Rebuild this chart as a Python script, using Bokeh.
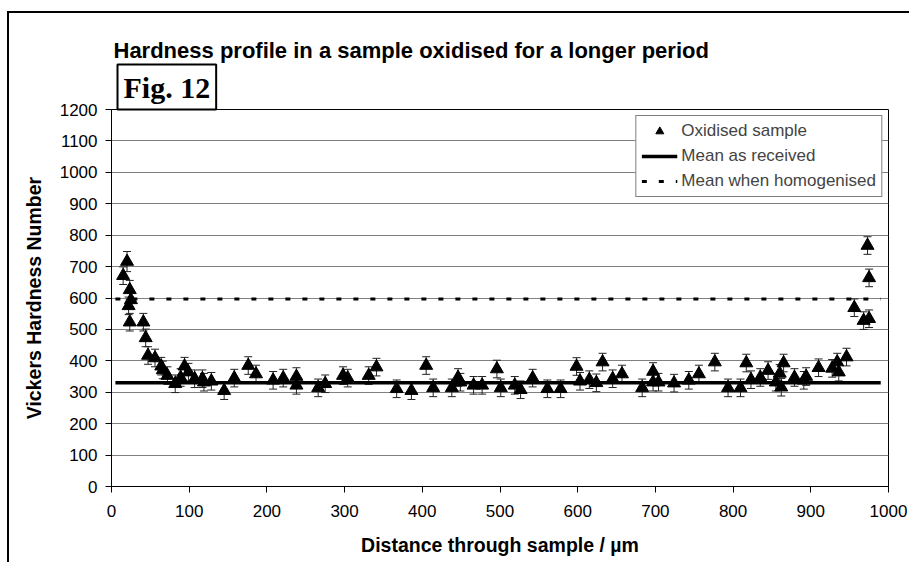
from bokeh.plotting import figure
from bokeh.models import (ColumnDataSource, Whisker, TeeHead, Title, Legend, LegendItem,
                          FixedTicker, Range1d)
from bokeh.embed import file_html
from bokeh.resources import INLINE

# ---- data ----
distance = [15, 20, 23.5, 25, 22, 23.5, 41, 44, 47, 56, 64, 66, 72, 82, 89, 94, 99, 107, 117, 119,
            128.5, 145, 158, 176, 186, 208, 221, 238, 238, 266, 275, 298, 304, 331, 341, 367, 386,
            405, 414, 438, 446, 449, 466, 477, 496, 501, 519, 526.5, 542, 561, 578, 598.5, 603,
            615, 624, 632, 645, 657, 683, 697, 697, 704, 724, 743, 756, 776.5, 793.5, 809.5, 817,
            823, 835, 845, 855, 860, 862, 865, 879, 891, 894, 910, 927.5, 934, 936, 946, 956, 968,
            975, 975, 973]
hardness = [671, 716, 626, 594, 575, 523, 523, 473, 417, 409, 383, 371, 353, 327, 347, 383, 364, 343,
            343, 332, 335, 305, 345, 385, 358, 338, 345, 350, 322, 314, 327, 353, 345, 353, 380, 311,
            305, 385, 314, 314, 347, 332, 322, 322, 374, 314, 322, 308, 345, 311, 311, 382, 335, 340,
            330, 396, 343, 358, 314, 366, 332, 332, 329, 338, 358, 396, 314, 314, 393, 340, 347, 369,
            332, 360, 316, 393, 347, 338, 350, 378, 376, 396, 364, 412, 569, 528, 534, 664, 767]
error = [28, 32, 30, 28, 28, 28, 28, 28, 28, 28, 28, 28, 28, 28, 28, 28, 28, 28, 28, 28,
         28, 28, 28, 28, 28, 28, 28, 28, 28, 28, 28, 28, 28, 28, 28, 28, 28, 28, 28, 28,
         28, 28, 28, 28, 28, 28, 28, 28, 28, 28, 28, 28, 28, 28, 28, 28, 28, 28, 28, 28,
         28, 28, 28, 28, 28, 28, 28, 28, 28, 28, 28, 28, 28, 28, 28, 28, 28, 28, 28, 28,
         28, 28, 28, 28, 28, 28, 28, 28, 28]
mean_x = [5, 990]
mean_as_received = [330, 330]
mean_homogenised = [597, 597]

x_ticks = [0, 100, 200, 300, 400, 500, 600, 700, 800, 900, 1000]
y_ticks = [0, 100, 200, 300, 400, 500, 600, 700, 800, 900, 1000, 1100, 1200]

title_text = "Hardness profile in a sample oxidised for a longer period"
fig_text = "Fig. 12"

upper = [h + e for h, e in zip(hardness, error)]
lower = [h - e for h, e in zip(hardness, error)]
src = ColumnDataSource(dict(x=distance, y=hardness, upper=upper, lower=lower))

FONT = "Liberation Sans"

p = figure(width=909, height=562, output_backend="svg", toolbar_location=None,
           x_range=Range1d(0, 1000), y_range=Range1d(0, 1200),
           min_border_left=111, min_border_right=21, min_border_top=109, min_border_bottom=76)
p.background_fill_color = "white"
p.border_fill_color = None
p.outline_line_color = "black"
p.outline_line_width = 1
# outer chart frame (left and top edges visible in the window)
p.styles = {"background": "linear-gradient(#000,#000) 7px 11px / 2px 1000px no-repeat, "
                          "linear-gradient(#000,#000) 7px 11px / 1000px 2px no-repeat, #fff"}

# axes
for ax in (p.xaxis[0], p.yaxis[0]):
    ax.axis_line_color = "black"
    ax.major_tick_line_color = "black"
    ax.major_tick_out = 6
    ax.major_tick_in = 0
    ax.minor_tick_line_color = None
    ax.major_label_text_font = FONT
    ax.major_label_text_font_size = "17px"
    ax.major_label_text_color = "black"
    ax.axis_label_text_font = FONT
    ax.axis_label_text_font_style = "bold"
    ax.axis_label_text_font_size = "19.5px"
    ax.axis_label_text_color = "black"

p.xaxis.ticker = FixedTicker(ticks=x_ticks)
p.yaxis.ticker = FixedTicker(ticks=y_ticks)
p.xaxis.axis_label = "Distance through sample / µm"
p.yaxis.axis_label = "Vickers Hardness Number"
p.xaxis.major_label_standoff = 12
p.yaxis.major_label_standoff = 8
p.xaxis.axis_label_standoff = 14
p.yaxis.axis_label_standoff = 12

p.xgrid.grid_line_color = None
p.ygrid.ticker = FixedTicker(ticks=y_ticks)
p.ygrid.grid_line_color = "#808080"
p.ygrid.grid_line_width = 1

# mean lines
r_recv = p.line(mean_x, mean_as_received, line_color="black", line_width=3.5)
r_homo = p.line(mean_x, mean_homogenised, line_color="black", line_width=3, line_dash="5 12")

# error bars
wh = Whisker(base="x", upper="upper", lower="lower", source=src, dimension="height",
             line_color="#222222", line_width=1,
             upper_head=TeeHead(size=8, line_color="#222222", line_width=1),
             lower_head=TeeHead(size=8, line_color="#222222", line_width=1))
p.add_layout(wh)

r_pts = p.scatter("x", "y", source=src, marker="triangle", size=13,
                  fill_color="black", line_color="black")

legend = Legend(items=[LegendItem(label="Oxidised sample", renderers=[r_pts]),
                       LegendItem(label="Mean as received", renderers=[r_recv]),
                       LegendItem(label="Mean when homogenised", renderers=[r_homo])],
                location="top_right", margin=6, padding=5, spacing=5,
                label_text_font=FONT, label_text_font_size="17px",
                glyph_width=36, glyph_height=20, label_height=20, label_standoff=4,
                border_line_color="black", border_line_width=1,
                background_fill_color="white", background_fill_alpha=1)
p.add_layout(legend)

# fig label and title, stacked in the panel above the frame
p.add_layout(Title(text=fig_text, align="left", offset=6, standoff=0,
                   text_font="Liberation Serif", text_font_style="bold",
                   text_font_size="30px", text_color="black", padding=6,
                   border_line_color="black", border_line_width=2,
                   background_fill_color="white"), "above")
p.add_layout(Title(text=title_text, align="left", offset=2, standoff=0,
                   text_font=FONT, text_font_style="bold", text_font_size="22px",
                   text_color="black"), "above")

open("out.html", "w").write(file_html(p, INLINE))
